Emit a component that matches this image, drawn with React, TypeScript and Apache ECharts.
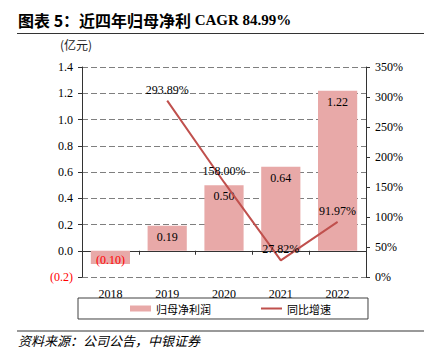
import React, { useEffect, useRef } from "react";
import * as echarts from "echarts";

const categories = ["2018", "2019", "2020", "2021", "2022"];
const profitValues = [-0.1, 0.19, 0.5, 0.64, 1.22];
const growthValues = [null, 293.89, 158.0, 27.82, 91.97];
const seriesNames = ["归母净利润", "同比增速"];
const titleCjk = "图表 5：近四年归母净利 ";
const titleLatin = "CAGR 84.99%";
const unitText = "(亿元)";
const sourceText = "资料来源：公司公告，中银证券";

const SERIF = '"Liberation Serif", "Times New Roman", "Noto Sans CJK SC", serif';
const CJK = '"Noto Sans CJK SC", "Liberation Serif", serif';
const BAR_COLOR = "#E8A9A8";
const LINE_COLOR = "#C0504D";

function fmtNum(v: number, d: number) {
  return v < 0 ? `(${Math.abs(v).toFixed(d)})` : v.toFixed(d);
}

export default function App() {
  const ref = useRef<HTMLDivElement>(null);
  useEffect(() => {
    if (!ref.current) return;
    const chart = echarts.init(ref.current, undefined, { renderer: "svg" });
    chart.setOption({
      animation: false,
      backgroundColor: "#ffffff",
      grid: { left: 82, right: 58, top: 67, bottom: 84, containLabel: false },
      legend: {
        left: 78,
        top: 298,
        padding: [5, 37, 5, 52],
        borderColor: "#404040",
        borderWidth: 1,
        itemGap: 50,
        itemWidth: 21,
        itemHeight: 6,
        textStyle: { fontFamily: CJK, fontSize: 11, color: "#000" },
        data: [
          { name: seriesNames[0], icon: "rect" },
          {
            name: seriesNames[1],
            icon: "path://M0,0 L0.01,0 L0.01,0.01 Z M0,2 L21,2 L21,4 L0,4 Z M0,6 L0.01,6 L0.01,5.99 Z",
          },
        ],
      },
      graphic: [
        {
          type: "text",
          left: 18,
          top: 12,
          style: {
            text: `{c|${titleCjk}}{l|${titleLatin}}`,
            rich: {
              c: { fontFamily: CJK, fontWeight: "bold", fontSize: 16, fill: "#000" },
              l: { fontFamily: SERIF, fontWeight: "bold", fontSize: 15, fill: "#000" },
            },
          },
        },
        {
          type: "line",
          shape: { x1: 17, y1: 33.5, x2: 424, y2: 33.5 },
          style: { stroke: "#333", lineWidth: 1 },
        },
        {
          type: "text",
          left: 60,
          top: 38,
          style: { text: unitText, font: `12px ${CJK}`, fill: "#222" },
        },
        {
          type: "line",
          shape: { x1: 17, y1: 331, x2: 424, y2: 331 },
          style: { stroke: "#777", lineWidth: 1.5 },
        },
        {
          type: "text",
          left: 18,
          top: 334,
          style: { text: sourceText, font: `italic 13px ${CJK}`, fill: "#000" },
        },
      ],
      xAxis: [
        {
          type: "category",
          data: categories,
          position: "bottom",
          axisLine: { show: false, onZero: false },
          axisTick: { show: false },
          axisLabel: { margin: 11, fontFamily: SERIF, fontSize: 12, color: "#000" },
        },
        {
          type: "category",
          data: categories,
          position: "bottom",
          axisLine: { show: true, onZero: true, onZeroAxisIndex: 0, lineStyle: { color: "#333", width: 1 } },
          axisTick: { show: true, length: 4, lineStyle: { color: "#333" } },
          axisLabel: { show: false },
        },
      ],
      yAxis: [
        {
          type: "value",
          min: -0.2,
          max: 1.4,
          interval: 0.2,
          axisLine: { show: true, lineStyle: { color: "#333" } },
          axisTick: { show: true, length: 4, lineStyle: { color: "#333" } },
          axisLabel: {
            margin: 9,
            fontFamily: SERIF,
            fontSize: 12,
            formatter: (v: number) => fmtNum(Math.round(v * 10) / 10, 1),
            color: (v: any) => (Number(v) < -0.001 ? "#FF0000" : "#000"),
          },
          splitLine: { show: true, lineStyle: { color: "#7f7f7f", type: [6, 3], width: 1 } },
        },
        {
          type: "value",
          min: 0,
          max: 350,
          interval: 50,
          axisLine: { show: true, lineStyle: { color: "#333" } },
          axisTick: { show: true, length: 4, lineStyle: { color: "#333" } },
          axisLabel: { margin: 9, fontFamily: SERIF, fontSize: 12, color: "#000", formatter: "{value}%" },
          splitLine: { show: false },
        },
      ],
      series: [
        {
          name: seriesNames[0],
          type: "bar",
          barWidth: "69%",
          itemStyle: { color: BAR_COLOR },
          data: profitValues.map((v) =>
            v < 0
              ? { value: v, label: { position: "inside", offset: [0, 3], color: "#FF0000" } }
              : { value: v }
          ),
          label: {
            show: true,
            position: "insideTop",
            distance: 5,
            fontFamily: SERIF,
            fontSize: 12,
            color: "#000",
            formatter: (p: any) => fmtNum(p.value, 2),
          },
          z: 2,
        },
        {
          name: seriesNames[1],
          type: "line",
          yAxisIndex: 1,
          symbol: "none",
          lineStyle: { color: LINE_COLOR, width: 2 },
          itemStyle: { color: LINE_COLOR },
          data: growthValues,
          z: 3,
        },
        {
          name: "growthLabels",
          type: "scatter",
          yAxisIndex: 1,
          symbolSize: 0,
          itemStyle: { color: "#000", opacity: 1 },
          data: growthValues,
          label: {
            show: true,
            position: "top",
            distance: 5,
            fontFamily: SERIF,
            fontSize: 12,
            color: "#000",
            opacity: 1,
            formatter: (p: any) => `${Number(p.value).toFixed(2)}%`,
          },
          z: 4,
          silent: true,
        },
      ],
    });
    return () => chart.dispose();
  }, []);
  return (
    <div
      ref={ref}
      style={{ position: "fixed", left: 0, top: 0, width: 424, height: 361, background: "#fff" }}
    />
  );
}
